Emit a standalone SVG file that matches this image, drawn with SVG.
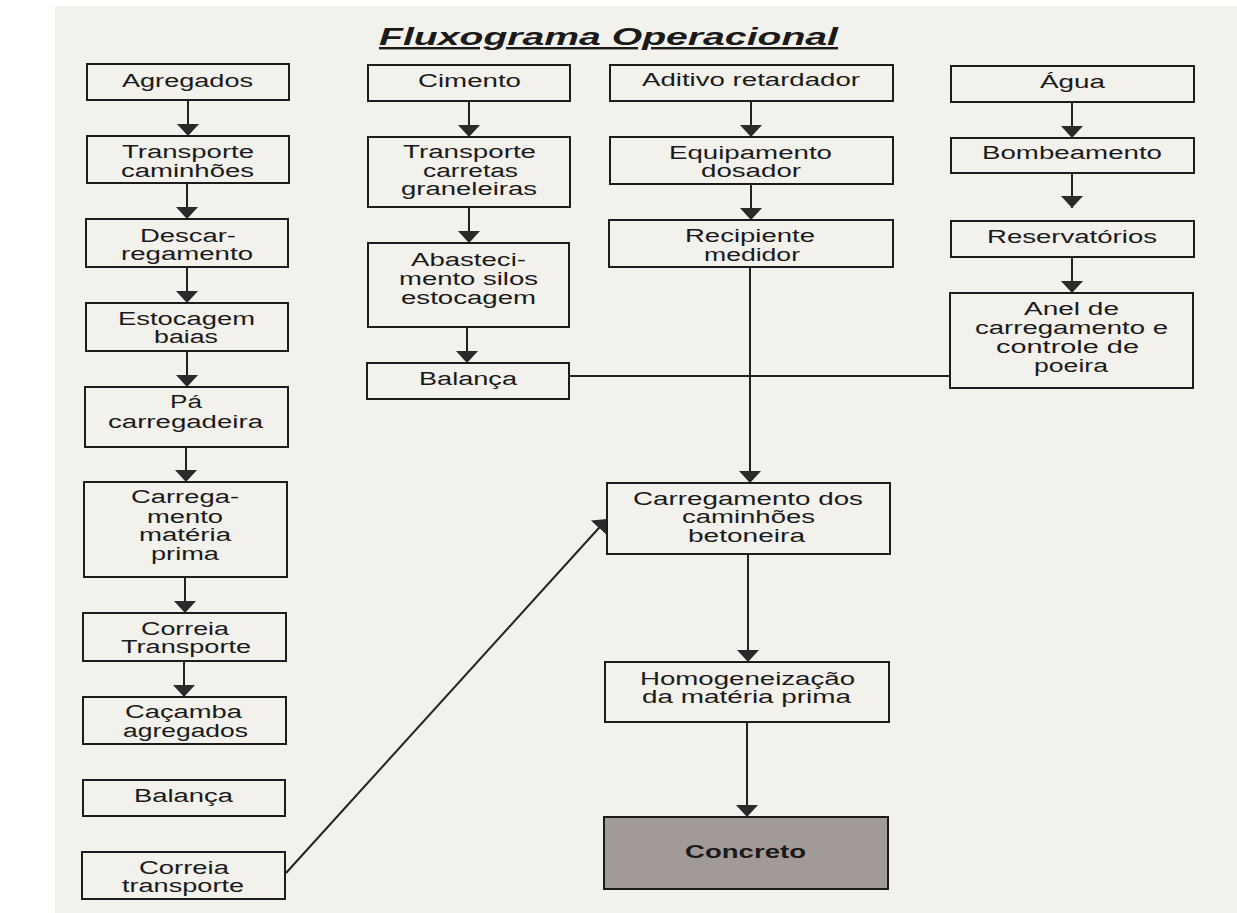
<svg xmlns="http://www.w3.org/2000/svg" width="1237" height="913" viewBox="0 0 1237 913">
<style>
.box{fill:none;stroke:#1c1c1c;stroke-width:2}
.t{font-family:"Liberation Sans",Arial,sans-serif;font-size:18px;fill:#1a1a1a;text-anchor:middle}
.c{stroke:#222;stroke-width:2;fill:none}
</style>
<defs>
<marker id="ah" markerUnits="userSpaceOnUse" markerWidth="14" markerHeight="22" refX="12" refY="11" orient="auto">
<path d="M0,0 L12,11 L0,22 z" fill="#2a2a2a"/>
</marker>
</defs>
<rect x="0" y="0" width="1237" height="913" fill="#ffffff"/>
<rect x="55" y="6" width="1182" height="907" fill="#f3f1ec"/>
<text id="title" x="608.5" y="45" font-family="'Liberation Sans',Arial,sans-serif" font-size="24" font-weight="bold" font-style="italic" fill="#1a1a1a" text-anchor="middle" text-decoration="underline" textLength="459" lengthAdjust="spacingAndGlyphs">Fluxograma Operacional</text>

<g id="connectors">
<line class="c" x1="188" y1="100" x2="188" y2="136" marker-end="url(#ah)"/>
<line class="c" x1="187" y1="183" x2="187" y2="219" marker-end="url(#ah)"/>
<line class="c" x1="187" y1="267" x2="187" y2="303" marker-end="url(#ah)"/>
<line class="c" x1="187" y1="351" x2="187" y2="387" marker-end="url(#ah)"/>
<line class="c" x1="186" y1="447" x2="186" y2="482" marker-end="url(#ah)"/>
<line class="c" x1="185" y1="577" x2="185" y2="613" marker-end="url(#ah)"/>
<line class="c" x1="184" y1="661" x2="184" y2="697" marker-end="url(#ah)"/>
<line class="c" x1="469" y1="101" x2="469" y2="137" marker-end="url(#ah)"/>
<line class="c" x1="469" y1="207" x2="469" y2="243" marker-end="url(#ah)"/>
<line class="c" x1="467" y1="327" x2="467" y2="363" marker-end="url(#ah)"/>
<line class="c" x1="751" y1="101" x2="751" y2="137" marker-end="url(#ah)"/>
<line class="c" x1="751" y1="184" x2="751" y2="220" marker-end="url(#ah)"/>
<line class="c" x1="750" y1="267" x2="750" y2="483" marker-end="url(#ah)"/>
<line class="c" x1="1072" y1="102" x2="1072" y2="138" marker-end="url(#ah)"/>
<line class="c" x1="1072" y1="173" x2="1072" y2="208" marker-end="url(#ah)"/>
<line class="c" x1="1072" y1="257" x2="1072" y2="293" marker-end="url(#ah)"/>
<line class="c" x1="569" y1="376" x2="950" y2="376"/>
<line class="c" x1="748" y1="554" x2="748" y2="662" marker-end="url(#ah)"/>
<line class="c" x1="747" y1="722" x2="747" y2="817" marker-end="url(#ah)"/>
<line class="c" x1="286" y1="873" x2="607" y2="519" marker-end="url(#ah)"/>
</g>

<g id="n-agregados"><rect class="box" x="87" y="64" width="202" height="36"/><text class="t" x="187.5" y="87" textLength="131" lengthAdjust="spacingAndGlyphs">Agregados</text></g>
<g id="n-transporte-caminhoes"><rect class="box" x="87" y="136" width="202" height="47"/><text class="t" x="188" y="158" textLength="132" lengthAdjust="spacingAndGlyphs">Transporte</text><text class="t" x="187.5" y="177" textLength="133" lengthAdjust="spacingAndGlyphs">caminhões</text></g>
<g id="n-descarregamento"><rect class="box" x="86" y="219" width="202" height="48"/><text class="t" x="188" y="242" textLength="96" lengthAdjust="spacingAndGlyphs">Descar-</text><text class="t" x="187" y="260" textLength="132" lengthAdjust="spacingAndGlyphs">regamento</text></g>
<g id="n-estocagem"><rect class="box" x="86" y="303" width="202" height="48"/><text class="t" x="186.5" y="325" textLength="137" lengthAdjust="spacingAndGlyphs">Estocagem</text><text class="t" x="186" y="343" textLength="64" lengthAdjust="spacingAndGlyphs">baias</text></g>
<g id="n-pa"><rect class="box" x="85" y="387" width="203" height="60"/><text class="t" x="186" y="408" textLength="32" lengthAdjust="spacingAndGlyphs">Pá</text><text class="t" x="185.5" y="428" textLength="155" lengthAdjust="spacingAndGlyphs">carregadeira</text></g>
<g id="n-carregamento-mp"><rect class="box" x="84" y="482" width="203" height="95"/><text class="t" x="185" y="503" textLength="108" lengthAdjust="spacingAndGlyphs">Carrega-</text><text class="t" x="185" y="523" textLength="76" lengthAdjust="spacingAndGlyphs">mento</text><text class="t" x="185" y="541" textLength="92" lengthAdjust="spacingAndGlyphs">matéria</text><text class="t" x="185" y="560" textLength="68" lengthAdjust="spacingAndGlyphs">prima</text></g>
<g id="n-correia1"><rect class="box" x="83" y="613" width="203" height="48"/><text class="t" x="185" y="635" textLength="88" lengthAdjust="spacingAndGlyphs">Correia</text><text class="t" x="186" y="653" textLength="130" lengthAdjust="spacingAndGlyphs">Transporte</text></g>
<g id="n-cacamba"><rect class="box" x="83" y="697" width="203" height="47"/><text class="t" x="183.5" y="718" textLength="117" lengthAdjust="spacingAndGlyphs">Caçamba</text><text class="t" x="185.5" y="737" textLength="125" lengthAdjust="spacingAndGlyphs">agregados</text></g>
<g id="n-balanca1"><rect class="box" x="83" y="780" width="202" height="36"/><text class="t" x="183.5" y="802" textLength="99" lengthAdjust="spacingAndGlyphs">Balança</text></g>
<g id="n-correia2"><rect class="box" x="82" y="852" width="203" height="47"/><text class="t" x="184" y="874" textLength="90" lengthAdjust="spacingAndGlyphs">Correia</text><text class="t" x="183" y="892" textLength="122" lengthAdjust="spacingAndGlyphs">transporte</text></g>

<g id="n-cimento"><rect class="box" x="368" y="65" width="202" height="36"/><text class="t" x="469.5" y="87" textLength="103" lengthAdjust="spacingAndGlyphs">Cimento</text></g>
<g id="n-transporte-carretas"><rect class="box" x="368" y="137" width="202" height="70"/><text class="t" x="469.5" y="158" textLength="133" lengthAdjust="spacingAndGlyphs">Transporte</text><text class="t" x="470.5" y="177" textLength="95" lengthAdjust="spacingAndGlyphs">carretas</text><text class="t" x="469" y="195" textLength="136" lengthAdjust="spacingAndGlyphs">graneleiras</text></g>
<g id="n-abastecimento"><rect class="box" x="368" y="243" width="201" height="84"/><text class="t" x="468.5" y="266" textLength="115" lengthAdjust="spacingAndGlyphs">Abasteci-</text><text class="t" x="468.5" y="285" textLength="139" lengthAdjust="spacingAndGlyphs">mento silos</text><text class="t" x="468.5" y="304" textLength="135" lengthAdjust="spacingAndGlyphs">estocagem</text></g>
<g id="n-balanca2"><rect class="box" x="367" y="363" width="202" height="36"/><text class="t" x="468" y="385" textLength="98" lengthAdjust="spacingAndGlyphs">Balança</text></g>

<g id="n-aditivo"><rect class="box" x="610" y="65" width="283" height="36"/><text class="t" x="751" y="86" textLength="218" lengthAdjust="spacingAndGlyphs">Aditivo retardador</text></g>
<g id="n-equipamento"><rect class="box" x="610" y="137" width="283" height="47"/><text class="t" x="750.5" y="159" textLength="163" lengthAdjust="spacingAndGlyphs">Equipamento</text><text class="t" x="751" y="177" textLength="100" lengthAdjust="spacingAndGlyphs">dosador</text></g>
<g id="n-recipiente"><rect class="box" x="609" y="220" width="284" height="47"/><text class="t" x="750" y="242" textLength="130" lengthAdjust="spacingAndGlyphs">Recipiente</text><text class="t" x="752" y="261" textLength="96" lengthAdjust="spacingAndGlyphs">medidor</text></g>

<g id="n-agua"><rect class="box" x="951" y="66" width="243" height="36"/><text class="t" x="1072.5" y="88" textLength="65" lengthAdjust="spacingAndGlyphs">Água</text></g>
<g id="n-bombeamento"><rect class="box" x="951" y="138" width="243" height="35"/><text class="t" x="1072" y="159" textLength="180" lengthAdjust="spacingAndGlyphs">Bombeamento</text></g>
<g id="n-reservatorios"><rect class="box" x="951" y="221" width="243" height="36"/><text class="t" x="1072" y="243" textLength="170" lengthAdjust="spacingAndGlyphs">Reservatórios</text></g>
<g id="n-anel"><rect class="box" x="950" y="293" width="243" height="95"/><text class="t" x="1071.5" y="315" textLength="95" lengthAdjust="spacingAndGlyphs">Anel de</text><text class="t" x="1071.5" y="334" textLength="193" lengthAdjust="spacingAndGlyphs">carregamento e</text><text class="t" x="1067.5" y="353" textLength="143" lengthAdjust="spacingAndGlyphs">controle de</text><text class="t" x="1071" y="372" textLength="74" lengthAdjust="spacingAndGlyphs">poeira</text></g>

<g id="n-carregamento-betoneira"><rect class="box" x="607" y="483" width="283" height="71"/><text class="t" x="748" y="505" textLength="230" lengthAdjust="spacingAndGlyphs">Carregamento dos</text><text class="t" x="748.5" y="523" textLength="133" lengthAdjust="spacingAndGlyphs">caminhões</text><text class="t" x="746.5" y="542" textLength="117" lengthAdjust="spacingAndGlyphs">betoneira</text></g>
<g id="n-homogeneizacao"><rect class="box" x="605" y="662" width="284" height="60"/><text class="t" x="747.5" y="685" textLength="215" lengthAdjust="spacingAndGlyphs">Homogeneização</text><text class="t" x="746.5" y="703" textLength="209" lengthAdjust="spacingAndGlyphs">da matéria prima</text></g>
<g id="n-concreto"><rect x="604" y="817" width="284" height="72" fill="#a29a97" stroke="#1c1c1c" stroke-width="2"/><text class="t" x="745.5" y="858" font-weight="bold" textLength="121" lengthAdjust="spacingAndGlyphs">Concreto</text></g>
</svg>
